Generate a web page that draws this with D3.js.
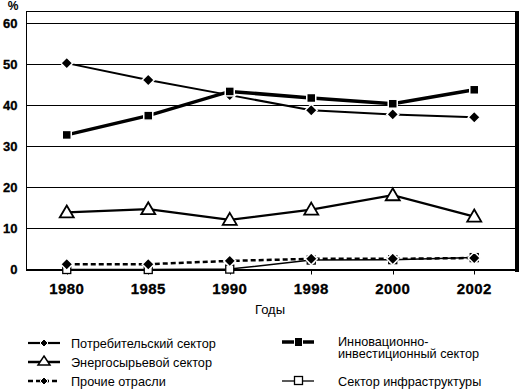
<!DOCTYPE html>
<html><head><meta charset="utf-8">
<script src="https://cdn.jsdelivr.net/npm/d3@7"></script>
<style>body{margin:0;background:#fff}svg{display:block}text{font-family:"Liberation Sans",Arial,sans-serif}</style>
</head><body><svg id="c" width="519" height="391"></svg>
<script>
const years = ["1980","1985","1990","1998","2000","2002"];
const yTicks = [0,10,20,30,40,50,60];
const consumer = [50.3,46.2,42.5,38.8,37.8,37.1];
const innovation = [32.8,37.5,43.4,41.8,40.4,43.8];
const energy = [13.9,14.7,12.1,14.6,18.1,12.9];
const other = [1.3,1.3,2.1,2.6,2.6,2.8];
const infra = [0,0,0.1,2.3,2.4,2.9];
const names = ["Потребительский сектор","Энергосырьевой сектор","Прочие отрасли","Инновационно-|инвестиционный сектор","Сектор инфраструктуры"];

const svg = d3.select("#c");
const L=26,R=515,T=11,B=269.5;
const x = d3.scaleBand().domain(years).range([L,R]);
const y = d3.scaleLinear().domain([0,63]).range([B,T]);
const cx = d => x(d)+x.bandwidth()/2;

// frame & grid
svg.append("line").attr("x1",L).attr("x2",R).attr("y1",T+0.5).attr("y2",T+0.5).attr("stroke","#000");
svg.append("line").attr("x1",L+0.5).attr("x2",L+0.5).attr("y1",T).attr("y2",B).attr("stroke","#000");
yTicks.filter(v=>v>0).forEach(v=>{
  svg.append("line").attr("x1",L).attr("x2",R).attr("y1",Math.round(y(v))+0.5).attr("y2",Math.round(y(v))+0.5).attr("stroke","#000");
});
svg.append("rect").attr("x",R).attr("y",T).attr("width",4).attr("height",B-T+2.5).attr("fill","#000");
svg.append("line").attr("x1",L).attr("x2",519).attr("y1",B+0.5).attr("y2",B+0.5).attr("stroke","#000").attr("stroke-width",2);
years.forEach(d=>{
  svg.append("line").attr("x1",Math.round(cx(d))+0.5).attr("x2",Math.round(cx(d))+0.5).attr("y1",B).attr("y2",B+5).attr("stroke","#000");
});

// y labels
yTicks.forEach(v=>{
  svg.append("text").attr("x",17.5).attr("y",y(v)+4.5).attr("text-anchor","end")
    .attr("font-size",13).attr("font-weight","bold").attr("stroke","#000").attr("stroke-width",0.3).text(v);
});
svg.append("text").attr("x",13).attr("y",10).attr("text-anchor","middle").attr("font-size",12).attr("font-weight","bold").text("%");
// x labels
years.forEach(d=>{
  svg.append("text").attr("x",cx(d)).attr("y",294).attr("text-anchor","middle")
    .attr("font-size",15).attr("font-weight","bold").attr("letter-spacing",0.4).attr("stroke","#000").attr("stroke-width",0.3).text(d);
});
svg.append("text").attr("x",270).attr("y",314).attr("text-anchor","middle").attr("font-size",13).text("Годы");

const line = d3.line().x((d,i)=>cx(years[i])).y(d=>y(d));
function marker(g,type,px,py){
  if(type==="diamond"){
    g.append("path").attr("d",`M${px},${py-6}L${px+6},${py}L${px},${py+6}L${px-6},${py}Z`).attr("fill","#000").attr("stroke","#fff").attr("stroke-width",1.5);
  } else if(type==="square"){
    g.append("rect").attr("x",px-4.5).attr("y",py-4.5).attr("width",9).attr("height",9).attr("fill","#000").attr("stroke","#fff").attr("stroke-width",1.5);
  } else if(type==="tri"){
    g.append("path").attr("d",`M${px},${py-7}L${px+7},${py+5}L${px-7},${py+5}Z`).attr("fill","#fff").attr("stroke","#000").attr("stroke-width",1.8);
  } else if(type==="osquare"){
    g.append("rect").attr("x",px-4).attr("y",py-4).attr("width",8).attr("height",8).attr("fill","#fff").attr("stroke","#000").attr("stroke-width",1.3);
  }
}
const series = [
  {v:infra,m:"osquare",w:1.5,dash:null},
  {v:other,m:"diamond",w:2.5,dash:"5,3"},
  {v:energy,m:"tri",w:2.2,dash:null},
  {v:consumer,m:"diamond",w:2,dash:null},
  {v:innovation,m:"square",w:3.5,dash:null}
];
series.forEach(s=>{
  const g = svg.append("g");
  g.append("path").attr("d",line(s.v)).attr("fill","none").attr("stroke","#000").attr("stroke-width",s.w).attr("stroke-dasharray",s.dash);
  s.v.forEach((d,i)=>marker(g,s.m,cx(years[i]),y(d)));
});

// legend
const leg = [
  {n:names[0],m:"diamond",w:2.2,dash:null,x:28,y:343,tx:71},
  {n:names[1],m:"tri",w:2.5,dash:null,x:28,y:362,tx:71},
  {n:names[2],m:"diamond",w:2.5,dash:"5,3",x:28,y:381,tx:71},
  {n:names[3],m:"square",w:3.5,dash:null,x:282,y:342,tx:338},
  {n:names[4],m:"osquare",w:1.3,dash:null,x:282,y:381,tx:338}
];
leg.forEach(l=>{
  const g = svg.append("g");
  g.append("line").attr("x1",l.x).attr("x2",l.x+32).attr("y1",l.y).attr("y2",l.y).attr("stroke","#000").attr("stroke-width",l.w).attr("stroke-dasharray",l.dash);
  const sm = l.m;
  if(sm==="diamond") g.append("path").attr("d",`M${l.x+16},${l.y-4}L${l.x+20},${l.y}L${l.x+16},${l.y+4}L${l.x+12},${l.y}Z`).attr("fill","#000").attr("stroke","#fff").attr("stroke-width",1);
  else if(sm==="square") g.append("rect").attr("x",l.x+12.5).attr("y",l.y-4.5).attr("width",8).attr("height",9).attr("fill","#000").attr("stroke","#fff").attr("stroke-width",1);
  else if(sm==="tri") g.append("path").attr("d",`M${l.x+16},${l.y-6}L${l.x+22},${l.y+3}L${l.x+10},${l.y+3}Z`).attr("fill","#fff").attr("stroke","#000").attr("stroke-width",1.5);
  else g.append("rect").attr("x",l.x+12.5).attr("y",l.y-4.5).attr("width",8).attr("height",8).attr("fill","#fff").attr("stroke","#000").attr("stroke-width",1.3);
  const parts = l.n.split("|");
  parts.forEach((p,i)=>{
    svg.append("text").attr("x",l.tx).attr("y",l.y+4.5+i*12.5-(parts.length>1?1:0)).attr("font-size",12.7).text(p);
  });
});
</script></body></html>
